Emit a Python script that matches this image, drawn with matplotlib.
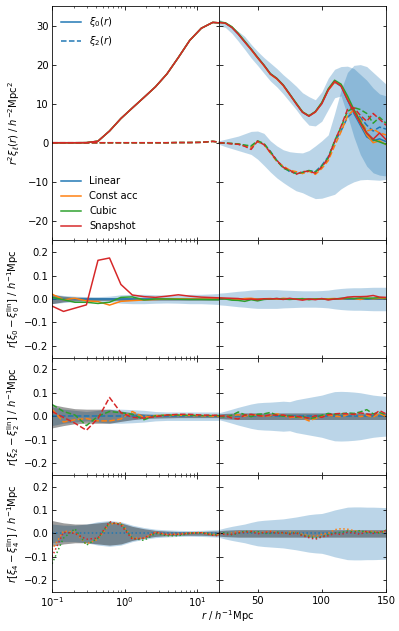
import numpy as np
import matplotlib
matplotlib.use("Agg")
import matplotlib.pyplot as plt
from matplotlib.lines import Line2D

plt.rcParams['font.family'] = ['DejaVu Sans']
plt.rcParams['font.size'] = 10
plt.rcParams['mathtext.fontset'] = 'dejavusans'

# ---------------- data ----------------
models = ["Linear", "Const acc", "Cubic", "Snapshot"]
colors = ["#1f77b4", "#ff7f0e", "#2ca02c", "#d62728"]

r_left = [0.1, 0.144, 0.207, 0.298, 0.43, 0.62, 0.89, 1.28, 1.85, 2.66, 3.83, 5.5, 7.9, 11.4, 16.4, 23.6]
r_right = [20, 25, 30, 35, 40, 45, 50, 55, 60, 65, 70, 75, 80, 85, 90, 95, 100,
           105, 110, 115, 120, 125, 130, 135, 140, 145, 150]

# top-left: r^2 xi_l (all models nearly identical)
xi0_left = [0.0, 0.0, 0.0, 0.02, 0.4, 3.0, 6.2, 8.9, 11.6, 14.3, 17.6, 21.8, 26.2, 29.3, 30.8, 30.6]
xi2_left = [0.0, 0.0, 0.0, 0.0, 0.0, 0.0, 0.0, 0.0, 0.0, 0.0, 0.0, 0.05, 0.05, 0.1, 0.35, 0.0]

# top-right: r^2 xi_0 per model
xi0_right = {
    "Linear":    [30.8, 30.6, 29.5, 27.8, 25.8, 23.9, 21.8, 19.8, 17.6, 16.4, 14.7, 12.4, 10.0, 7.8, 6.8, 7.9, 10.0, 13.5, 15.5, 14.5, 11.0, 7.5, 4.5, 1.5, 0.5, 1.0, 0.3],
    "Const acc": [30.8, 30.6, 29.6, 27.9, 25.9, 23.8, 21.7, 19.7, 17.5, 16.3, 14.6, 12.3, 10.1, 7.9, 6.9, 7.8, 10.1, 13.4, 15.5, 14.8, 11.5, 8.0, 5.0, 2.0, 0.0, 0.5, -0.5],
    "Cubic":     [30.9, 30.7, 29.7, 28.0, 26.0, 24.0, 21.9, 19.9, 17.7, 16.5, 14.8, 12.5, 10.2, 7.9, 6.9, 8.0, 10.3, 13.8, 16.0, 15.0, 12.0, 8.5, 5.5, 2.5, 0.8, 0.2, -0.4],
    "Snapshot":  [30.8, 30.6, 29.5, 27.8, 25.8, 23.9, 21.8, 19.8, 17.6, 16.4, 14.7, 12.4, 10.0, 7.8, 6.8, 7.9, 10.0, 13.5, 15.7, 14.5, 11.0, 8.0, 5.0, 2.5, 0.9, 2.5, 0.8],
}
xi2_right = {
    "Linear":    [0.0, -0.1, -0.2, -0.4, -0.7, -1.0, 0.2, -0.3, -2.2, -4.5, -6.2, -7.4, -7.8, -7.6, -7.2, -7.4, -5.8, -3.6, 0.2, 3.0, 6.5, 8.0, 6.5, 4.5, 3.0, 4.0, 3.5],
    "Const acc": [0.0, -0.1, -0.2, -0.3, -0.8, -1.2, 0.3, -0.4, -2.6, -4.8, -6.0, -7.0, -7.4, -7.9, -7.3, -8.1, -6.6, -4.6, -0.8, 2.8, 6.8, 8.5, 6.0, 3.0, 3.5, 2.5, 2.0],
    "Cubic":     [0.0, -0.1, -0.2, -0.3, -0.6, -0.8, 0.5, -0.2, -2.3, -4.6, -6.5, -7.2, -7.9, -7.6, -7.1, -7.5, -6.0, -3.9, 0.5, 4.0, 8.0, 9.0, 8.5, 7.5, 5.0, 6.5, 5.0],
    "Snapshot":  [0.0, -0.1, -0.3, -0.4, -0.9, -1.7, 0.4, -0.5, -2.5, -4.5, -6.3, -7.0, -8.1, -7.4, -7.3, -7.8, -6.2, -4.0, 0.3, 4.2, 8.5, 9.0, 7.0, 5.5, 7.5, 6.0, 4.5],
}
# top-right scatter bands (lower / upper edges)
xi0_band_lo = [29.9, 29.5, 28.0, 26.0, 23.9, 21.7, 19.8, 17.8, 15.8, 14.3, 12.5, 10.5, 8.5, 6.3, 4.5, 4.3, 5.5, 8.5, 11.5, 12.0, 7.0, 1.5, -3.0, -6.0, -7.7, -8.3, -8.5]
xi0_band_hi = [31.6, 30.8, 29.8, 28.5, 27.2, 25.2, 23.4, 21.8, 20.4, 19.0, 17.4, 16.0, 14.5, 12.8, 11.8, 11.0, 13.0, 16.5, 18.8, 19.5, 19.6, 19.0, 17.5, 16.0, 14.0, 12.5, 12.0]
xi2_band_lo = [-0.4, -1.0, -1.5, -2.0, -2.5, -3.0, -4.2, -5.8, -7.5, -9.0, -10.2, -11.3, -12.3, -12.8, -13.6, -14.3, -14.2, -13.7, -13.2, -11.8, -10.8, -10.0, -9.5, -9.4, -9.5, -9.6, -9.4]
xi2_band_hi = [0.5, 0.9, 1.3, 1.7, 2.3, 2.9, 3.0, 2.4, 0.5, -0.8, -1.8, -2.3, -2.5, -2.6, -2.0, -0.8, 0.5, 2.0, 7.5, 13.5, 18.0, 19.8, 20.0, 19.5, 18.0, 16.5, 15.0]

# residuals r[xi_l - xi_l^lin], left column (Const acc, Cubic, Snapshot); Linear is zero
res0_left = {
    "Const acc": [0.021, -0.003, 0.003, -0.008, -0.011, -0.026, -0.01, -0.007, -0.004, -0.002, 0.0, 0.001, 0.0, 0.0, 0.0, 0.0],
    "Cubic":     [0.007, -0.003, -0.014, -0.014, -0.019, -0.014, 0.007, 0.009, -0.004, 0.0, 0.0, -0.001, -0.002, -0.002, -0.003, -0.003],
    "Snapshot":  [-0.03, -0.053, -0.039, -0.025, 0.165, 0.175, 0.062, 0.017, 0.01, 0.007, 0.012, 0.018, 0.012, 0.008, 0.006, 0.004],
}
res2_left = {
    "Const acc": [0.03, -0.025, -0.015, -0.01, -0.02, -0.02, -0.012, 0.02, -0.005, 0.003, 0.004, 0.004, 0.003, 0.002, 0.0, 0.0],
    "Cubic":     [0.05, 0.02, 0.005, -0.04, 0.0, 0.02, 0.015, 0.008, -0.015, 0.002, 0.005, 0.005, 0.004, 0.003, 0.003, 0.003],
    "Snapshot":  [0.02, -0.005, -0.03, -0.06, -0.01, 0.08, 0.015, -0.005, -0.008, -0.002, 0.005, 0.008, 0.008, 0.005, 0.004, 0.004],
}
res4_left = {
    "Const acc": [-0.07, 0.01, 0.005, -0.045, -0.025, 0.04, 0.045, -0.02, -0.02, 0.005, -0.005, -0.003, 0.002, 0.004, -0.005, -0.006],
    "Cubic":     [-0.13, -0.02, 0.02, -0.05, -0.02, 0.045, 0.04, -0.02, -0.03, 0.0, -0.01, -0.01, 0.0, 0.002, -0.005, -0.008],
    "Snapshot":  [-0.1, 0.005, 0.0, -0.025, -0.02, 0.05, 0.035, -0.025, -0.02, 0.005, -0.005, -0.004, 0.0, 0.003, -0.008, -0.012],
}
res0_right = {
    "Const acc": [0.002, 0.001, 0.0, -0.002, 0.002, 0.003, -0.001, 0.001, 0.002, -0.001, 0.003, 0.001, 0.0, 0.002, -0.002, 0.001, 0.0, 0.001, 0.002, 0.0, 0.003, 0.002, -0.002, 0.004, 0.001, 0.003, 0.002],
    "Cubic":     [0.003, 0.0, -0.005, -0.006, -0.01, -0.003, -0.008, -0.002, 0.0, 0.002, 0.0, -0.002, 0.0, 0.001, -0.003, 0.0, 0.0, -0.002, 0.0, 0.003, 0.004, 0.002, 0.005, 0.003, 0.004, 0.006, 0.005],
    "Snapshot":  [0.005, 0.004, 0.003, 0.002, -0.002, 0.0, -0.003, 0.001, 0.0, 0.002, -0.002, 0.003, -0.001, -0.005, 0.0, -0.003, 0.002, -0.004, 0.0, 0.002, 0.008, 0.01, 0.01, 0.011, 0.015, 0.008, 0.007],
}
res2_right = {
    "Const acc": [0.0, 0.0, 0.002, 0.006, 0.0, 0.006, 0.004, 0.0, 0.002, 0.01, 0.004, -0.006, -0.002, -0.008, -0.02, -0.01, 0.0, 0.004, 0.0, -0.002, 0.006, 0.01, -0.002, 0.004, -0.004, 0.012, -0.002],
    "Cubic":     [0.0, -0.004, 0.004, 0.018, 0.006, -0.002, 0.008, 0.01, 0.016, 0.004, 0.0, 0.002, -0.004, 0.0, -0.01, -0.006, 0.004, 0.012, 0.008, 0.01, 0.014, 0.012, 0.018, 0.028, 0.01, 0.016, 0.006],
    "Snapshot":  [0.0, 0.002, -0.008, -0.012, 0.005, 0.008, 0.003, 0.0, 0.006, 0.004, 0.005, -0.002, 0.0, -0.004, -0.008, 0.002, -0.005, 0.006, 0.01, 0.012, 0.01, 0.008, 0.014, 0.01, 0.005, 0.024, 0.01],
}
res4_right = {
    "Const acc": [0.0, -0.002, 0.002, 0.008, 0.006, 0.01, 0.002, 0.005, 0.01, 0.004, 0.0, 0.006, 0.004, -0.004, -0.01, -0.012, -0.004, 0.0, 0.016, 0.02, 0.018, 0.012, 0.008, 0.006, 0.01, 0.004, 0.006],
    "Cubic":     [0.0, 0.003, -0.006, 0.0, 0.01, 0.004, 0.008, 0.0, 0.0, 0.006, 0.002, 0.0, 0.004, -0.008, -0.012, -0.02, -0.014, -0.005, 0.002, 0.004, 0.01, 0.006, 0.012, 0.004, 0.006, 0.002, 0.014],
    "Snapshot":  [0.0, -0.005, -0.004, 0.003, 0.004, 0.008, -0.002, 0.004, 0.006, 0.0, 0.004, -0.004, 0.002, -0.01, -0.018, -0.025, -0.015, -0.01, 0.0, -0.005, 0.005, 0.002, -0.004, 0.01, 0.0, 0.006, 0.012],
}
zero_left = [0.0] * len(r_left)
zero_right = [0.0] * len(r_right)

# residual scatter half-widths: blue = sample variance, gray = second estimate
res0_blue_left = [0.02, 0.015, 0.012, 0.01, 0.01, 0.012, 0.018, 0.02, 0.02, 0.018, 0.017, 0.018, 0.02, 0.02, 0.022, 0.025]
res0_gray_left = [0.02, 0.012, 0.008, 0.007, 0.006, 0.006, 0.006, 0.006, 0.005, 0.005, 0.005, 0.005, 0.005, 0.005, 0.005, 0.005]
res2_blue_left = [0.04, 0.03, 0.025, 0.02, 0.025, 0.03, 0.03, 0.028, 0.025, 0.02, 0.018, 0.018, 0.018, 0.018, 0.018, 0.018]
res2_gray_left = [0.05, 0.04, 0.032, 0.03, 0.03, 0.03, 0.022, 0.015, 0.01, 0.008, 0.007, 0.006, 0.006, 0.006, 0.006, 0.006]
res4_blue_left = [0.04, 0.035, 0.035, 0.04, 0.05, 0.055, 0.05, 0.035, 0.025, 0.018, 0.015, 0.013, 0.012, 0.013, 0.015, 0.017]
res4_gray_left = [0.055, 0.045, 0.04, 0.04, 0.045, 0.05, 0.045, 0.03, 0.02, 0.013, 0.01, 0.008, 0.008, 0.008, 0.01, 0.01]

res0_blue_right = [0.025, 0.027, 0.03, 0.033, 0.035, 0.038, 0.04, 0.04, 0.04, 0.04, 0.038, 0.037, 0.036, 0.035, 0.035, 0.035, 0.036, 0.038, 0.042, 0.045, 0.047, 0.048, 0.048, 0.049, 0.05, 0.05, 0.05]
res0_gray_right = [0.004] * len(r_right)
res2_blue_right = [0.015, 0.022, 0.03, 0.038, 0.045, 0.052, 0.057, 0.059, 0.06, 0.062, 0.064, 0.062, 0.07, 0.075, 0.08, 0.085, 0.09, 0.098, 0.105, 0.106, 0.105, 0.103, 0.1, 0.095, 0.09, 0.087, 0.085]
res2_gray_right = [0.01, 0.012, 0.013] + [0.014] * 24
res4_blue_right = [0.017, 0.024, 0.03, 0.035, 0.04, 0.047, 0.053, 0.056, 0.058, 0.06, 0.062, 0.066, 0.07, 0.075, 0.08, 0.083, 0.085, 0.092, 0.1, 0.106, 0.112, 0.113, 0.113, 0.112, 0.112, 0.111, 0.11]
res4_gray_right = [0.012, 0.014, 0.015] + [0.016] * 24

# ---------------- figure ----------------
DPI = 72
fig = plt.figure(figsize=(399 / DPI, 631 / DPI), dpi=DPI)
gs = fig.add_gridspec(4, 2, height_ratios=[2, 1, 1, 1], hspace=0, wspace=0,
                      left=52/399, right=386/399, top=1-6/631, bottom=1-592/631)
axes = [[fig.add_subplot(gs[i, j]) for j in range(2)] for i in range(4)]

band_blue = dict(color="#1f77b4", alpha=0.3, lw=0)
band_gray = dict(color="k", alpha=0.38, lw=0)

# top row
axL, axR = axes[0]
for m, c in zip(models, colors):
    axL.plot(r_left, xi0_left, color=c, ls='-')
    axL.plot(r_left, xi2_left, color=c, ls='--')
axR.fill_between(r_right, xi0_band_lo, xi0_band_hi, **band_blue)
axR.fill_between(r_right, xi2_band_lo, xi2_band_hi, **band_blue)
for m, c in zip(models, colors):
    axR.plot(r_right, xi0_right[m], color=c, ls='-')
    axR.plot(r_right, xi2_right[m], color=c, ls='--')
for ax in (axL, axR):
    ax.set_ylim(-25, 35)
    ax.set_yticks([-20, -10, 0, 10, 20, 30])

# residual rows
rows = [
    (res0_left, res0_right, '-', res0_blue_left, res0_gray_left, res0_blue_right, res0_gray_right, r"$r[\xi_0 - \xi_0^{\rm lin}]$ / $h^{-1}$Mpc"),
    (res2_left, res2_right, '--', res2_blue_left, res2_gray_left, res2_blue_right, res2_gray_right, r"$r[\xi_2 - \xi_2^{\rm lin}]$ / $h^{-1}$Mpc"),
    (res4_left, res4_right, ':', res4_blue_left, res4_gray_left, res4_blue_right, res4_gray_right, r"$r[\xi_4 - \xi_4^{\rm lin}]$ / $h^{-1}$Mpc"),
]
for i, (rl, rr, ls, bl, gl, br, gr, lab) in enumerate(rows, start=1):
    axL, axR = axes[i]
    bl = np.array(bl); gl = np.array(gl); br = np.array(br); gr = np.array(gr)
    axL.fill_between(r_left, -bl, bl, **band_blue)
    axL.fill_between(r_left, -gl, gl, **band_gray)
    axR.fill_between(r_right, -br, br, **band_blue)
    axR.fill_between(r_right, -gr, gr, **band_gray)
    axL.plot(r_left, zero_left, color=colors[0], ls=ls)
    axR.plot(r_right, zero_right, color=colors[0], ls=ls)
    for m, c in zip(models[1:], colors[1:]):
        axL.plot(r_left, rl[m], color=c, ls=ls)
        axR.plot(r_right, rr[m], color=c, ls=ls)
    for ax in (axL, axR):
        ax.set_ylim(-0.25, 0.25)
        ax.set_yticks([-0.2, -0.1, 0.0, 0.1, 0.2])
    axL.set_ylabel(lab)

axes[0][0].set_ylabel(r"$r^2\xi_\ell(r)$ / $h^{-2}$Mpc$^2$")

for i in range(4):
    axL, axR = axes[i]
    axL.set_xscale('log')
    axL.set_xlim(0.1, 20)
    axR.set_xlim(20, 150)
    axR.set_xticks([50, 100, 150])
    for ax in (axL, axR):
        ax.tick_params(which='both', direction='in', top=True, right=True)
    axR.tick_params(labelleft=False)
    if i < 3:
        axL.tick_params(labelbottom=False)
        axR.tick_params(labelbottom=False)
    axL.yaxis.set_label_coords(-0.18, 0.5)

# legends
ax0 = axes[0][0]
h1 = [Line2D([], [], color=colors[0], ls='-'),
      Line2D([], [], color=colors[0], ls='--')]
leg1 = ax0.legend(h1, [r"$\xi_0(r)$", r"$\xi_2(r)$"], loc='upper left', frameon=False)
ax0.add_artist(leg1)
h2 = [Line2D([], [], color=c) for c in colors]
ax0.legend(h2, models, loc='lower left', frameon=False)

fig.text(228/399, 1-616/631, r"$r$ / $h^{-1}$Mpc", ha='center', va='center')

fig.savefig("out.png", dpi=DPI)
